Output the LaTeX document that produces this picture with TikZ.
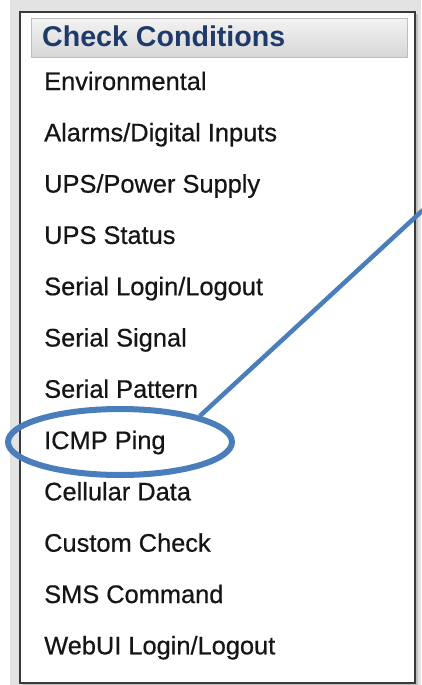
\documentclass[tikz,border=0pt]{standalone}
\usepackage{fontspec}
\setmainfont{Liberation Sans}
\newfontfamily\itemfont[FakeBold=0.5]{Liberation Sans}
\usetikzlibrary{calc,shapes.geometric}
\definecolor{bggray}{HTML}{E3E3E3}
\definecolor{boxline}{HTML}{3A3A3A}
\definecolor{hdrtop}{HTML}{F2F2F2}
\definecolor{hdrbot}{HTML}{D6D6D6}
\definecolor{hdrline}{HTML}{BDBDBD}
\definecolor{hdrtext}{HTML}{1E3A6B}
\definecolor{itemtext}{HTML}{151515}
\definecolor{callout}{HTML}{4A7EBB}
\tikzset{
  item/.style={anchor=base west, inner sep=0pt, text=itemtext, font=\itemfont\fontsize{25.4}{30}\selectfont},
  hdr/.style={anchor=base west, inner sep=0pt, text=hdrtext, font=\fontsize{28.6}{32}\selectfont\bfseries},
  ring/.style={draw=callout, line width=6pt, ellipse, minimum width=224pt, minimum height=66pt, inner sep=0pt},
  lead/.style={draw=callout, line width=4.5pt}
}
\begin{document}
\begin{tikzpicture}[x=1pt,y=-1pt]
\useasboundingbox (0,0) rectangle (421,685);
\fill[white] (0,0) rectangle (421,685);
\fill[bggray] (10,0) rectangle (421,685);
% shadow
\fill[black!25] (22,14) rectangle (418,686);
\draw[boxline, line width=2pt, fill=white] (20,12) rectangle (415,683);
% header bar
\shade[top color=hdrtop, bottom color=hdrbot, draw=hdrline, line width=1pt] (31,19) rectangle (407,58);
\node[hdr] (h) at (42,47) {Check Conditions};
% items
\foreach \t [count=\i from 0] in {Environmental,Alarms/Digital Inputs,UPS/Power Supply,UPS Status,Serial Login/Logout,Serial Signal,Serial Pattern,ICMP Ping,Cellular Data,Custom Check,SMS Command,WebUI Login/Logout}{
  \node[item] (i\i) at (44,{90+51.3*\i}) {\t};
}
% callout
\node[ring] (ov) at (120,442) {};
\coordinate (tip) at (423,210);
\draw[lead] (ov.18) -- (tip);
\end{tikzpicture}
\end{document}
